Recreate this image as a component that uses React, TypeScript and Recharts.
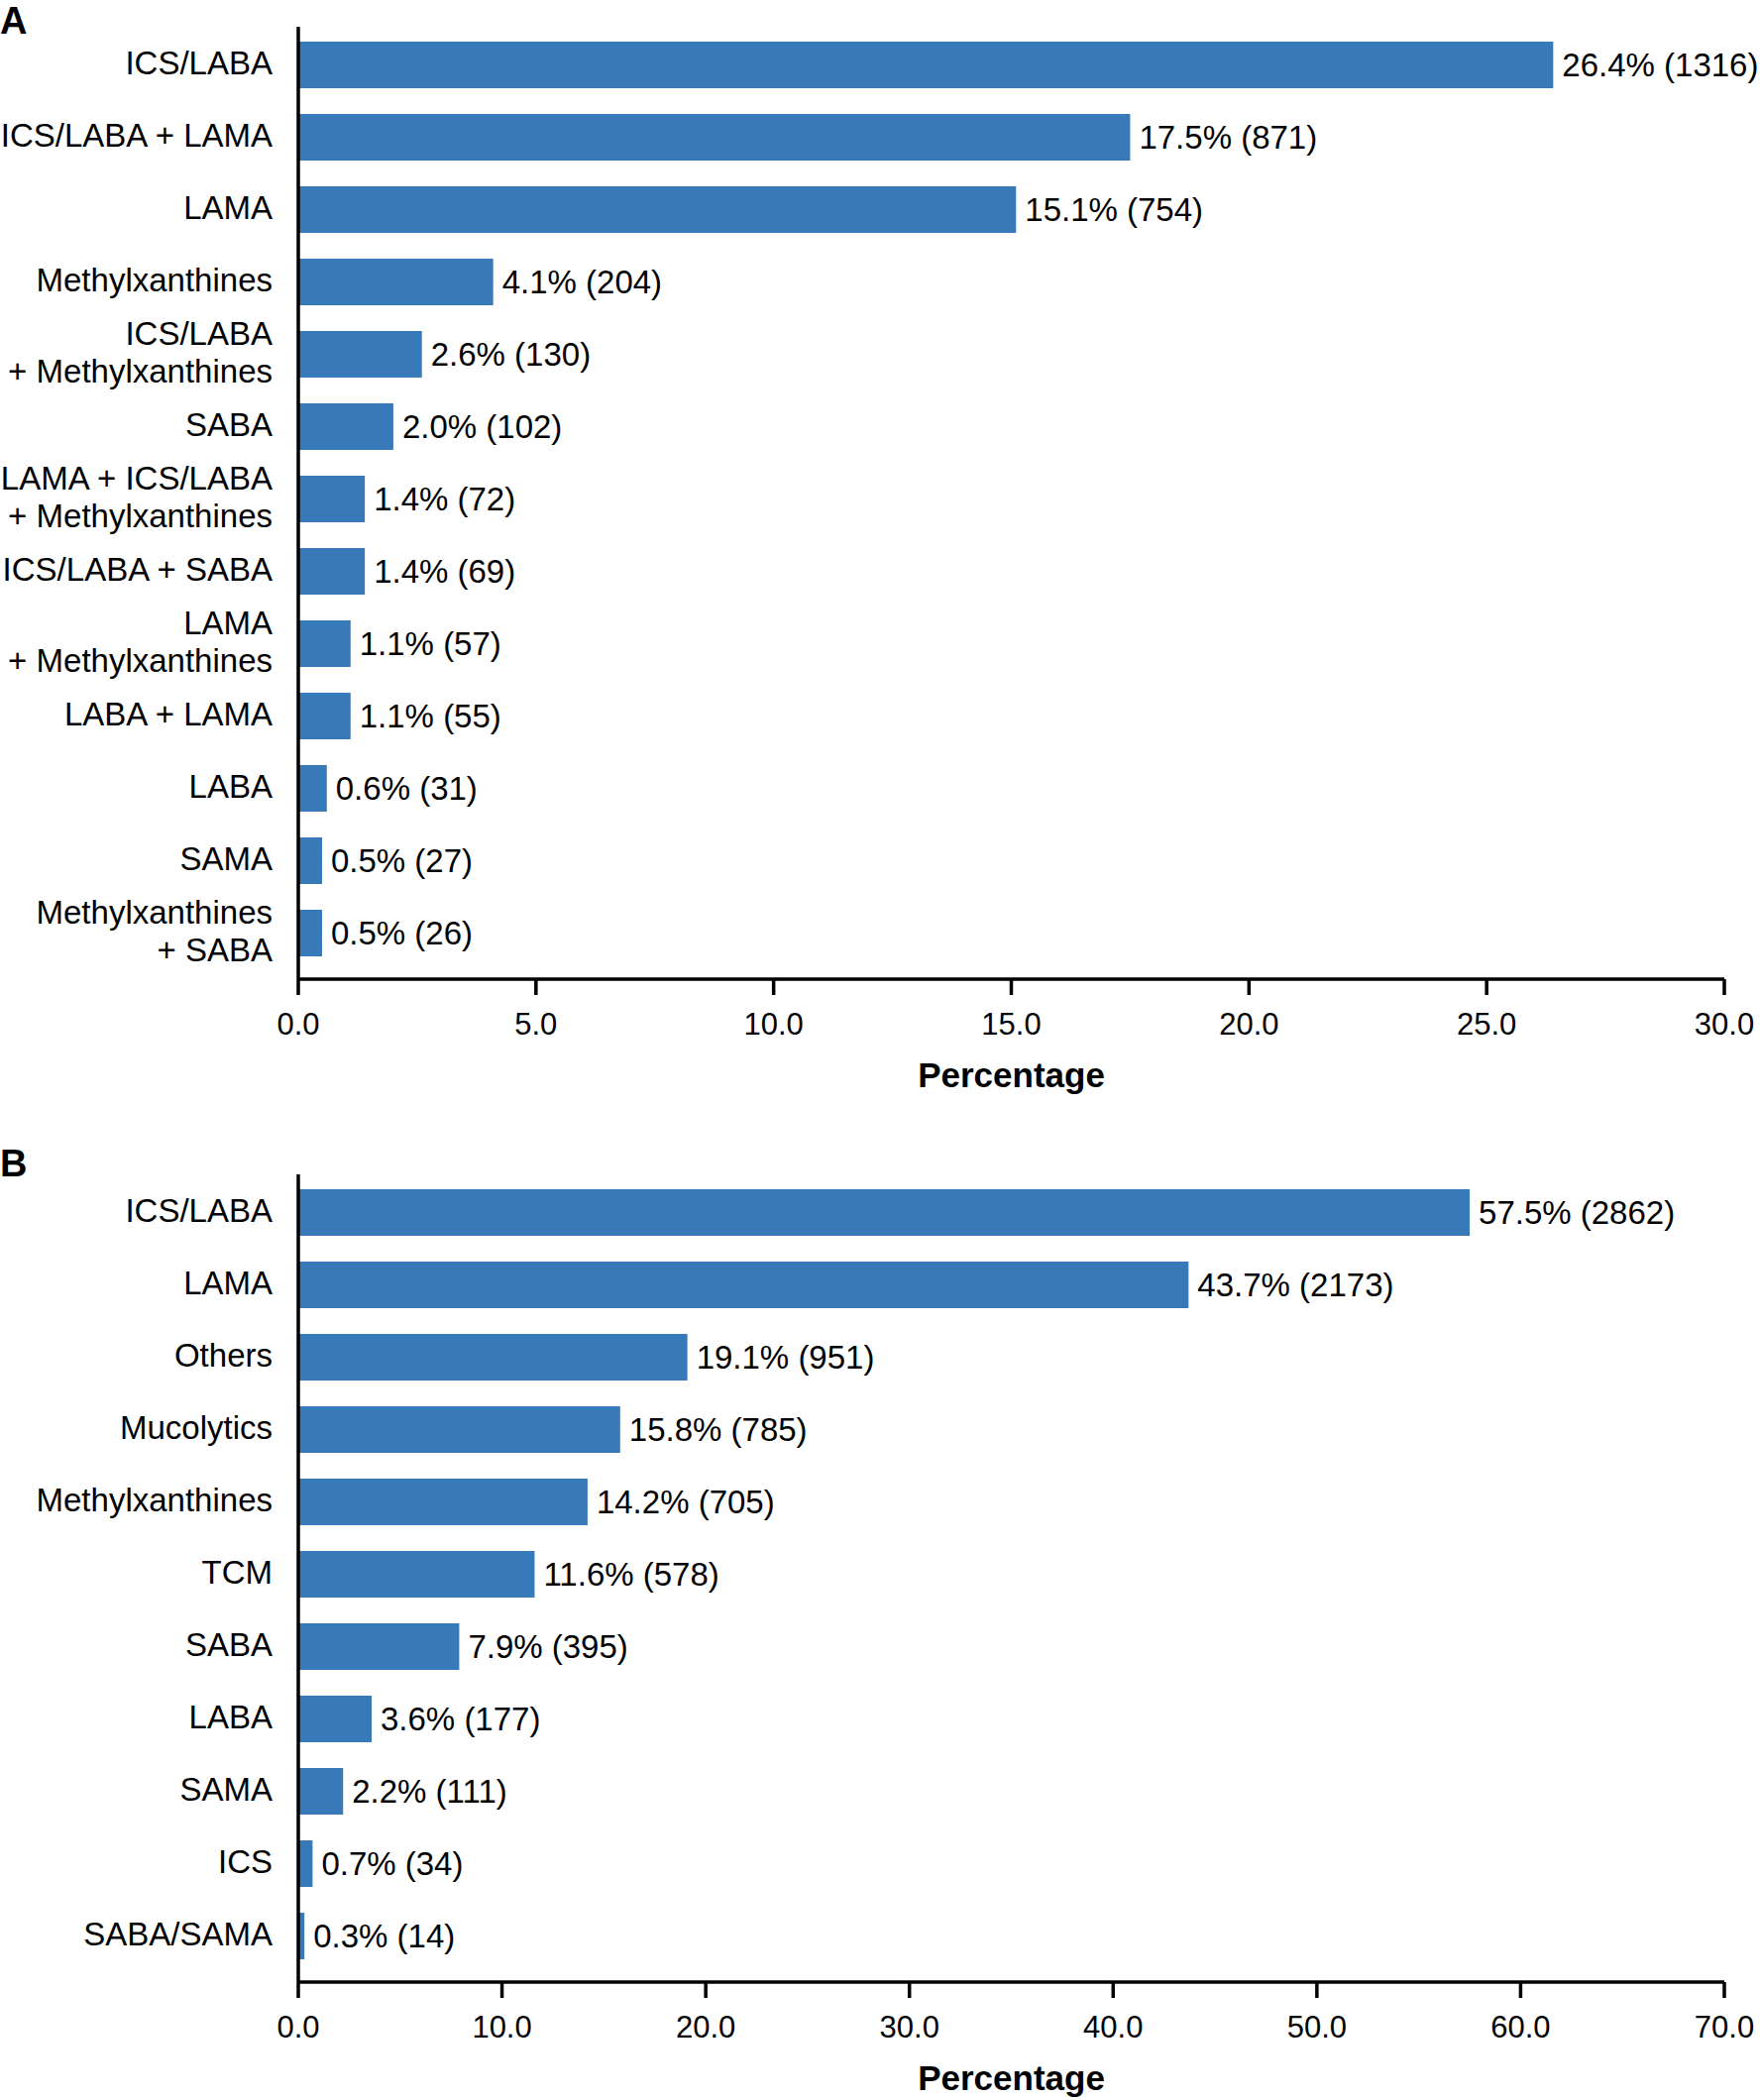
import { BarChart, Bar, XAxis, YAxis, LabelList } from "recharts";

const FONT = "'Liberation Sans', Arial, Helvetica, sans-serif";
const BAR_COLOR = "#3779b9";

// Panel A: maintenance treatment combinations
const namesA = [
  "ICS/LABA",
  "ICS/LABA + LAMA",
  "LAMA",
  "Methylxanthines",
  "ICS/LABA\n+ Methylxanthines",
  "SABA",
  "LAMA + ICS/LABA\n+ Methylxanthines",
  "ICS/LABA + SABA",
  "LAMA\n+ Methylxanthines",
  "LABA + LAMA",
  "LABA",
  "SAMA",
  "Methylxanthines\n+ SABA",
];
const pctA = [26.4, 17.5, 15.1, 4.1, 2.6, 2.0, 1.4, 1.4, 1.1, 1.1, 0.6, 0.5, 0.5];
const countA = [1316, 871, 754, 204, 130, 102, 72, 69, 57, 55, 31, 27, 26];
const ticksA = [0, 5, 10, 15, 20, 25, 30];

// Panel B: individual drug classes
const namesB = [
  "ICS/LABA",
  "LAMA",
  "Others",
  "Mucolytics",
  "Methylxanthines",
  "TCM",
  "SABA",
  "LABA",
  "SAMA",
  "ICS",
  "SABA/SAMA",
];
const pctB = [57.5, 43.7, 19.1, 15.8, 14.2, 11.6, 7.9, 3.6, 2.2, 0.7, 0.3];
const countB = [2862, 2173, 951, 785, 705, 578, 395, 177, 111, 34, 14];
const ticksB = [0, 10, 20, 30, 40, 50, 60, 70];

const build = (names: string[], pct: number[], n: number[]) =>
  names.map((name, i) => ({
    name,
    pct: pct[i],
    label: `${pct[i].toFixed(1)}% (${n[i]})`,
  }));

const dataA = build(namesA, pctA, countA);
const dataB = build(namesB, pctB, countB);

function CategoryTick(props: any) {
  const { x, y, payload } = props;
  const lines = String(payload.value).split("\n");
  const lh = 1.15;
  return (
    <text x={x} y={y} textAnchor="end" fontSize={33} fill="#000" fontFamily={FONT}>
      {lines.map((line, i) => (
        <tspan key={i} x={x} dy={i === 0 ? `${0.3 - ((lines.length - 1) * lh) / 2}em` : `${lh}em`}>
          {line}
        </tspan>
      ))}
    </text>
  );
}

function PercentLabel(props: any) {
  const { viewBox } = props;
  if (!viewBox) return null;
  return (
    <text
      x={viewBox.x + viewBox.width / 2}
      y={viewBox.y + 109}
      textAnchor="middle"
      fontSize={35}
      fontWeight="bold"
      fill="#000"
      fontFamily={FONT}
    >
      Percentage
    </text>
  );
}

interface PanelProps {
  data: { name: string; pct: number; label: string }[];
  ticks: number[];
  height: number;
  marginTop: number;
  marginBottom: number;
  axisHeight: number;
}

function Panel({ data, ticks, height, marginTop, marginBottom, axisHeight }: PanelProps) {
  return (
    <BarChart
      width={1776}
      height={height}
      data={data}
      layout="vertical"
      margin={{ top: marginTop, right: 36, bottom: marginBottom, left: 0 }}
    >
      <XAxis
        type="number"
        domain={[ticks[0], ticks[ticks.length - 1]]}
        ticks={ticks}
        interval={0}
        tickFormatter={(v: number) => v.toFixed(1)}
        height={axisHeight}
        axisLine={{ stroke: "#000", strokeWidth: 3.5 }}
        tickLine={{ stroke: "#000", strokeWidth: 3.5 }}
        tickSize={16}
        tickMargin={18}
        tick={{ fontSize: 31, fill: "#000", fontFamily: FONT }}
        label={<PercentLabel />}
      />
      <YAxis
        type="category"
        dataKey="name"
        width={301}
        interval={0}
        padding={{ top: 2, bottom: 10 }}
        axisLine={{ stroke: "#000", strokeWidth: 3.5 }}
        tickLine={false}
        tickSize={0}
        tickMargin={26}
        tick={<CategoryTick />}
      />
      <Bar dataKey="pct" fill={BAR_COLOR} barSize={47} isAnimationActive={false}>
        <LabelList
          dataKey="label"
          position="right"
          offset={9}
          fontSize={33}
          fill="#000"
          fontFamily={FONT}
        />
      </Bar>
    </BarChart>
  );
}

const panelLetter = {
  position: "absolute" as const,
  left: 0,
  fontFamily: FONT,
  fontWeight: "bold" as const,
  fontSize: 38,
  lineHeight: "38px",
};

export default function App() {
  return (
    <div style={{ position: "absolute", top: 0, left: 0, width: 1776, height: 2119, background: "#fff", fontFamily: FONT }}>
      <div style={{ ...panelLetter, top: 2 }}>A</div>
      <div style={{ ...panelLetter, top: 1155 }}>B</div>
      <div style={{ position: "absolute", top: 0, left: 0 }}>
        <Panel data={dataA} ticks={ticksA} height={1140} marginTop={27} marginBottom={22} axisHeight={130} />
      </div>
      <div style={{ position: "absolute", top: 1140, left: 0 }}>
        <Panel data={dataB} ticks={ticksB} height={979} marginTop={45} marginBottom={19} axisHeight={100} />
      </div>
    </div>
  );
}
